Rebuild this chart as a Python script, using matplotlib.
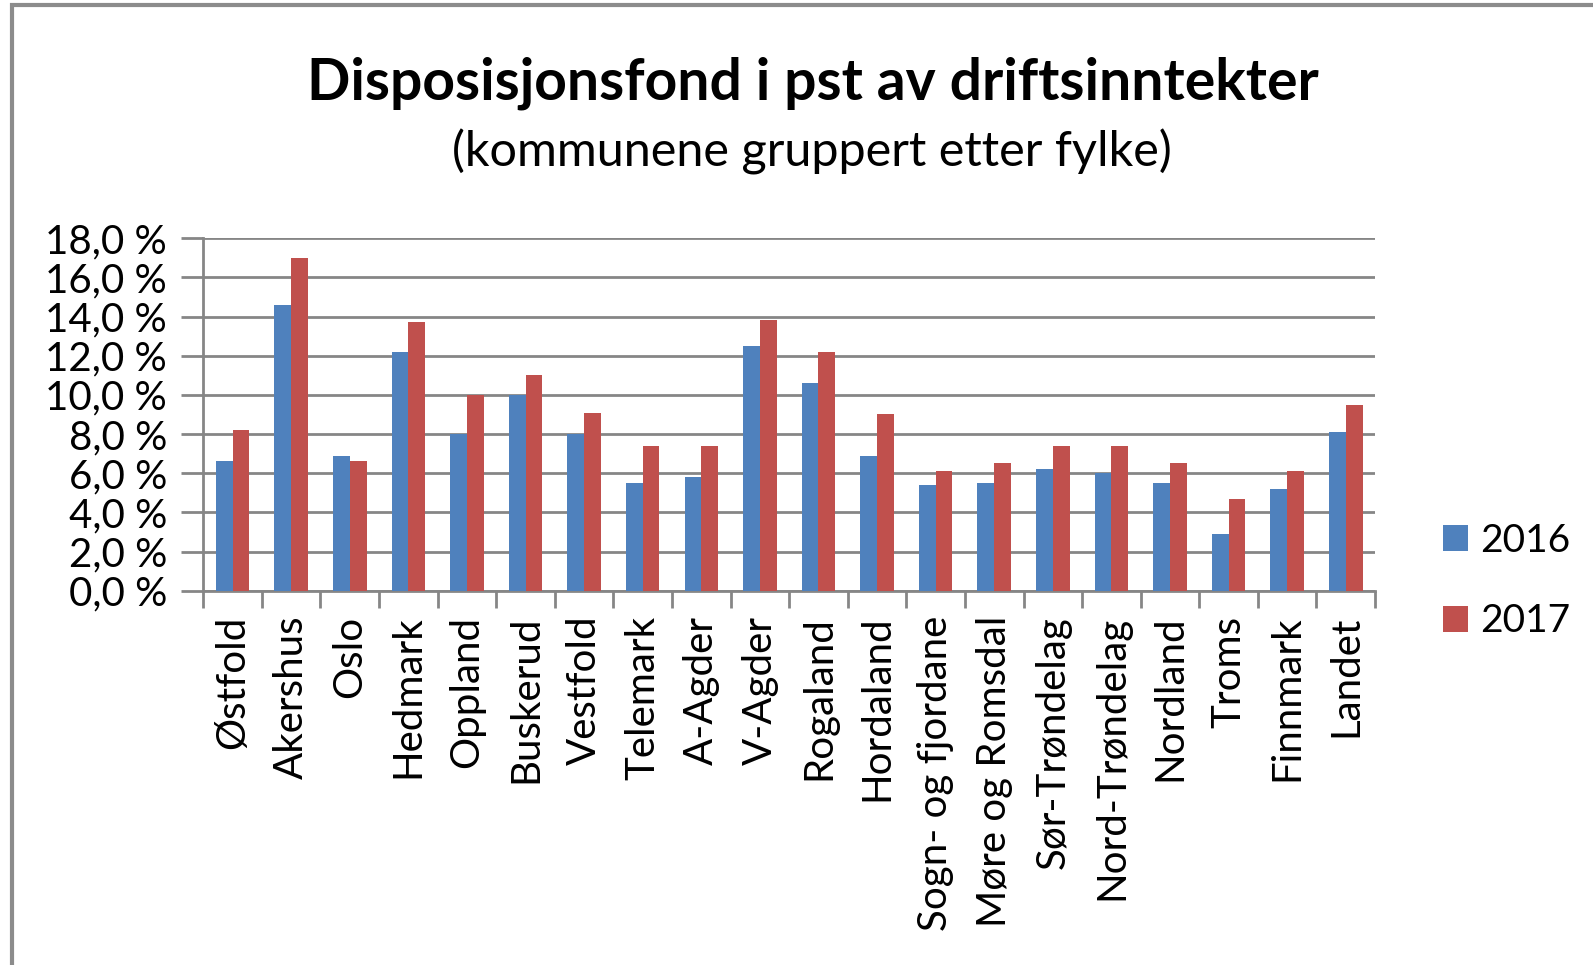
import numpy as np
import matplotlib
matplotlib.use("Agg")
import matplotlib.pyplot as plt
from matplotlib.patches import Rectangle

plt.rcParams['font.family'] = ['Lato', 'DejaVu Sans']

fylker = ["Østfold", "Akershus", "Oslo", "Hedmark", "Oppland", "Buskerud", "Vestfold",
          "Telemark", "A-Agder", "V-Agder", "Rogaland", "Hordaland", "Sogn- og fjordane",
          "Møre og Romsdal", "Sør-Trøndelag", "Nord-Trøndelag", "Nordland", "Troms",
          "Finnmark", "Landet"]
ar2016 = [6.6, 14.6, 6.9, 12.2, 8.0, 10.0, 8.0, 5.5, 5.8, 12.5, 10.6, 6.9, 5.4, 5.5,
          6.2, 6.0, 5.5, 2.9, 5.2, 8.1]
ar2017 = [8.2, 17.0, 6.6, 13.7, 10.0, 11.0, 9.1, 7.4, 7.4, 13.8, 12.2, 9.0, 6.1, 6.5,
          7.4, 7.4, 6.5, 4.7, 6.1, 9.5]
yticks = [0, 2, 4, 6, 8, 10, 12, 14, 16, 18]

blue = "#4F81BD"
red = "#C0504D"
grid = "#868686"

fig = plt.figure(figsize=(15.93, 9.65), dpi=100)
ax = fig.add_axes([0.1276, 0.3879, 0.7356, 0.3652])

x = np.arange(len(fylker))
w = 0.286
ax.bar(x - w / 2, ar2016, w, color=blue, label="2016", zorder=3)
ax.bar(x + w / 2, ar2017, w, color=red, label="2017", zorder=3)

ax.set_xlim(-0.5, len(fylker) - 0.5)
ax.set_ylim(0, 18)
ax.set_yticks(yticks)
ax.set_yticklabels([f"{v:.1f} %".replace(".", ",") for v in yticks], fontsize=29)
ax.yaxis.grid(True, color=grid, linewidth=2, zorder=0)
ax.tick_params(axis='y', length=16, width=2, color=grid, pad=10)

# category labels between boundary ticks
ax.set_xticks(x)
ax.set_xticklabels(fylker, rotation=90, fontsize=29, va='top', ha='center')
ax.tick_params(axis='x', length=0, pad=18)
ax.set_xticks(np.arange(len(fylker) + 1) - 0.5, minor=True)
ax.tick_params(axis='x', which='minor', length=12, width=2, color=grid)

for s in ['top', 'right']:
    ax.spines[s].set_visible(False)
ax.spines['left'].set_color(grid)
ax.spines['left'].set_linewidth(2)
ax.spines['bottom'].set_color(grid)
ax.spines['bottom'].set_linewidth(2)

fig.text(0.51, 0.914, "Disposisjonsfond i pst av driftsinntekter", fontsize=41,
         fontweight='bold', ha='center', va='center')
fig.text(0.51, 0.843, "(kommunene gruppert etter fylke)", fontsize=35,
         ha='center', va='center')

fig.legend(loc='center left', bbox_to_anchor=(0.884, 0.398), frameon=False,
           fontsize=28, handlelength=0.65, handleheight=0.65, labelspacing=1.15,
           handletextpad=0.3)

fig.patches.append(Rectangle((12 / 1593, -0.1), 1.2, 1.1 - 5 / 965, transform=fig.transFigure,
                             fill=False, edgecolor="#8c8c8c", linewidth=3))

fig.savefig("out.png", dpi=100)
